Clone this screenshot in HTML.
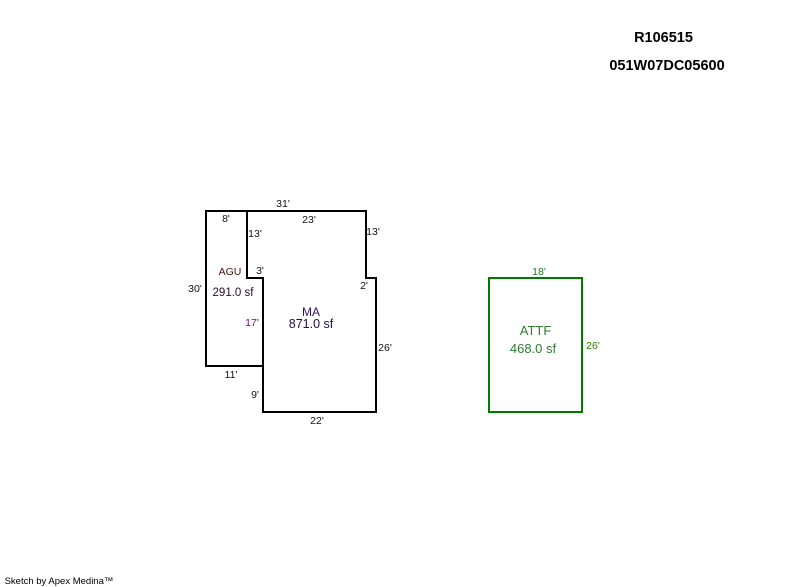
<!DOCTYPE html>
<html>
<head>
<meta charset="utf-8">
<style>
html,body{margin:0;padding:0;background:#fff;width:800px;height:587px;overflow:hidden}
svg{display:block}
text{font-family:"Liberation Sans",Arial,sans-serif;font-size:10.5px;text-anchor:middle}
</style>
</head>
<body>
<svg width="800" height="587" viewBox="0 0 800 587" xmlns="http://www.w3.org/2000/svg">
<g fill="none" stroke="#000" stroke-width="2" shape-rendering="crispEdges">
<path d="M206 211H366V278H376V412H263V366H206Z"/>
<path d="M247 211V278H263V366"/>
</g>
<rect x="489" y="278" width="93" height="134" fill="none" stroke="#007a00" stroke-width="2" shape-rendering="crispEdges"/>

<text x="663.5" y="42" style="font-weight:bold;font-size:14.5px" fill="#000">R106515</text>
<text x="667" y="70" style="font-weight:bold;font-size:14.5px" fill="#000">051W07DC05600</text>

<g fill="#111">
<text x="283" y="207">31'</text>
<text x="226" y="222">8'</text>
<text x="309" y="223">23'</text>
<text x="255" y="237">13'</text>
<text x="373" y="235">13'</text>
<text x="260" y="274">3'</text>
<text x="364" y="289">2'</text>
<text x="195" y="292">30'</text>
<text x="385" y="351">26'</text>
<text x="231" y="378">11'</text>
<text x="255" y="398">9'</text>
<text x="317" y="424">22'</text>
</g>
<text x="252" y="326" fill="#6a0a6a">17'</text>
<text x="230" y="275" fill="#401010">AGU</text>
<text x="233" y="296" style="font-size:11.5px" fill="#201020">291.0 sf</text>
<text x="311" y="316" style="font-size:12px" fill="#301070">MA</text>
<text x="311" y="328" style="font-size:12.5px" fill="#201040">871.0 sf</text>

<text x="539" y="275" fill="#1a7a1a">18'</text>
<text x="593" y="349" fill="#2a7a00">26'</text>
<text x="535.5" y="335" style="font-size:13px" fill="#2e7d32">ATTF</text>
<text x="533" y="353" style="font-size:13px" fill="#2e7d32">468.0 sf</text>

<text x="59" y="584" style="font-size:9.5px" fill="#000">Sketch by Apex Medina™</text>
</svg>
</body>
</html>
